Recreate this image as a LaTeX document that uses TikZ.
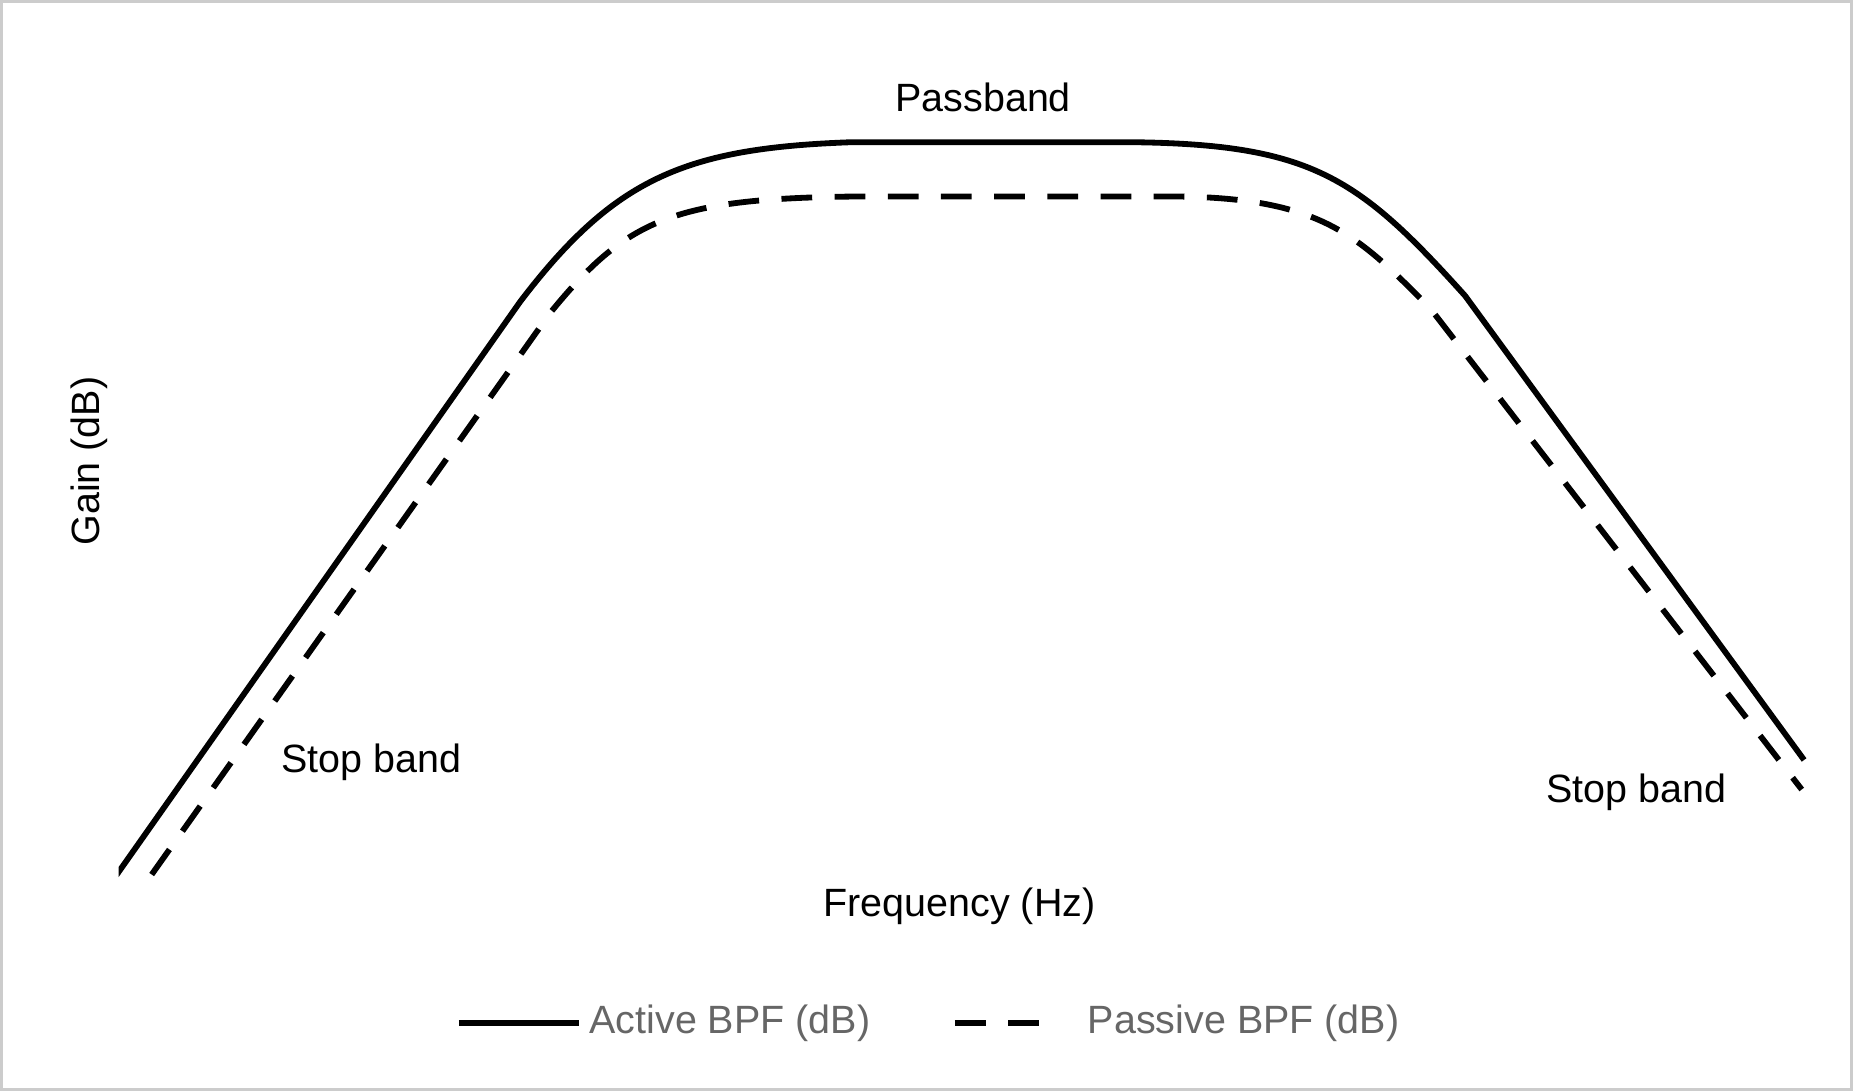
\documentclass[tikz,border=0pt]{standalone}
\usepackage{fontspec}
\setmainfont{Liberation Sans}
\begin{document}
\begin{tikzpicture}[x=0.01cm,y=-0.01cm,
  curve/.style={line width=1.4pt},
  dcurve/.style={line width=1.4pt,dash pattern=on 0.26cm off 0.19cm},
  lbl/.style={font=\fontsize{9.5}{11}\selectfont,inner sep=0pt},
  leg/.style={font=\fontsize{9.5}{11}\selectfont,inner sep=0pt,text=black!60,anchor=west}]
\draw[black!20,line width=0.8pt] (1,1) rectangle (1567,922);
\useasboundingbox (0,0) rectangle (1568,923);
\begin{scope}
\clip (100,0) rectangle (1568,923);
\draw[curve] (95,745) -- (440,255) .. controls (520,150) and (580,125) .. (720,120) -- (960,120) .. controls (1110,122) and (1150,150) .. (1240,250) -- (1527,643);
\draw[dcurve] (128,740) -- (465,265) .. controls (530,185) and (570,168) .. (720,166) -- (1000,166) .. controls (1120,168) and (1150,200) .. (1210,260) -- (1525,668);
\end{scope}
\node[lbl] (pb) at (832,82) {Passband};
\node[lbl,rotate=90] (gain) at (75,390) {Gain (dB)};
\node[lbl] (sb1) at (314,645) {Stop band};
\node[lbl] (sb2) at (1385,670) {Stop band};
\node[lbl] (freq) at (812,767) {Frequency (Hz)};
\coordinate (a1) at (388,866); \coordinate (a2) at (490,866);
\draw[curve] (a1) -- (a2);
\node[leg] (la) at (498,866) {Active BPF (dB)};
\coordinate (b1) at (808,866); \coordinate (b2) at (892,866);
\draw[line width=1.4pt,dash pattern=on 0.26cm off 0.19cm] (b1) -- (b2);
\node[leg] (lb) at (920,866) {Passive BPF (dB)};
\end{tikzpicture}
\end{document}
